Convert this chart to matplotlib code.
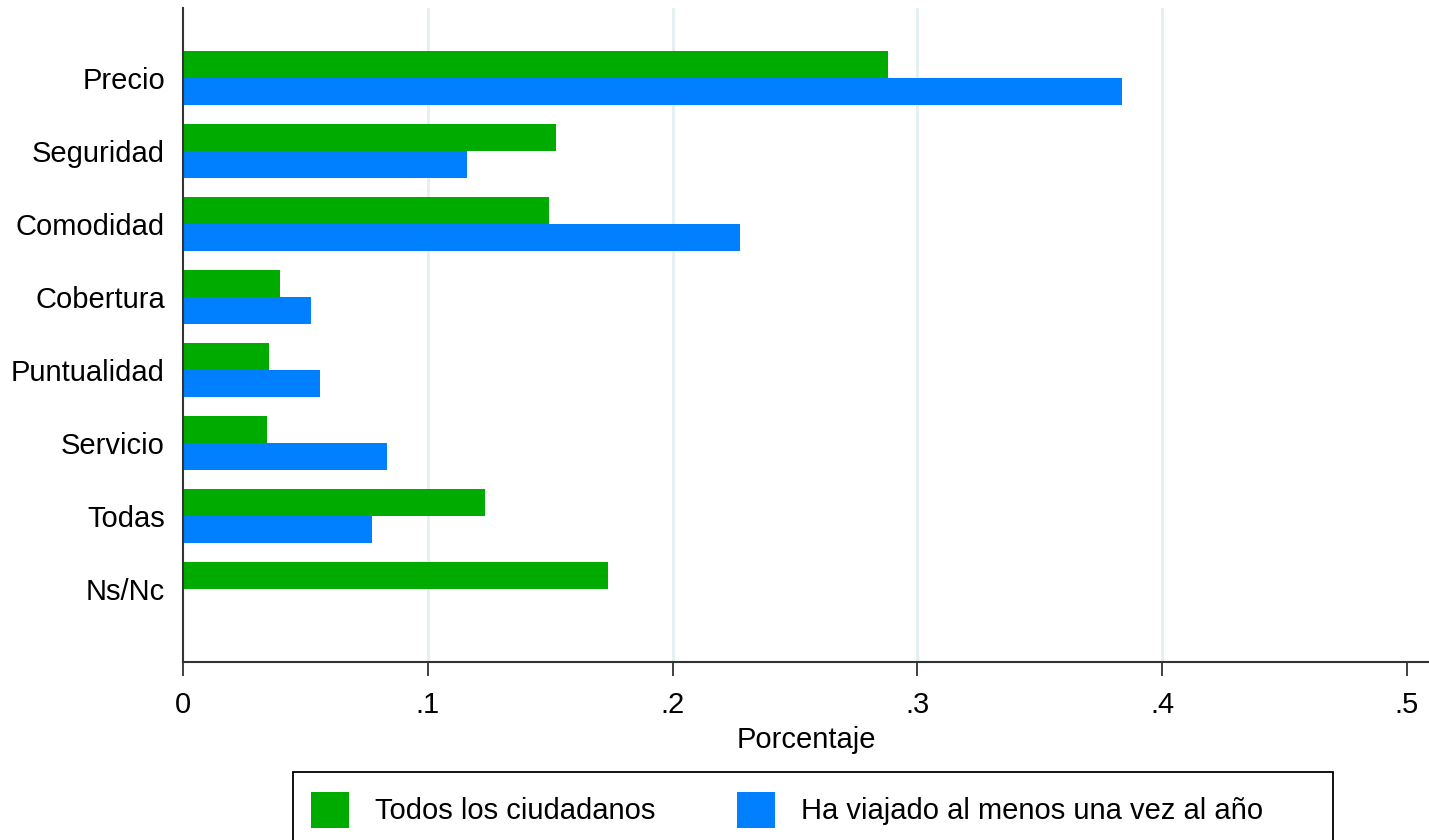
import matplotlib
matplotlib.use("Agg")
import matplotlib.pyplot as plt
from matplotlib.patches import Rectangle
import numpy as np

# Valores
categorias = ["Precio", "Seguridad", "Comodidad", "Cobertura",
              "Puntualidad", "Servicio", "Todas", "Ns/Nc"]
todos = [0.288, 0.1525, 0.1495, 0.0395, 0.035, 0.0345, 0.1235, 0.1735]
viajado = [0.3835, 0.116, 0.2275, 0.0523, 0.056, 0.0835, 0.0772, 0.0]
xticks = [0, 0.1, 0.2, 0.3, 0.4, 0.5]
xtick_labels = ["0", ".1", ".2", ".3", ".4", ".5"]

verde = "#00ab00"
azul = "#0080ff"

plt.rcParams['font.family'] = ['Liberation Sans', 'DejaVu Sans']

W, H = 1429, 840
fig = plt.figure(figsize=(W / 100, H / 100), dpi=100)
ax = fig.add_axes([183 / W, 1 - 662 / H, 1 - 183 / W, (662 - 8) / H])

y = np.arange(len(categorias))
h = 0.37
ax.barh(y - h / 2, todos, height=h, color=verde, label="Todos los ciudadanos")
ax.barh(y + h / 2, viajado, height=h, color=azul,
        label="Ha viajado al menos una vez al año")

for x in xticks[1:-1]:
    ax.axvline(x, color="#e6eff1", lw=2.2, zorder=0)

ax.set_xlim(0, 0.509)
ax.set_ylim(8.0, -0.96)
ax.set_yticks(y)
ax.set_yticklabels(categorias, fontsize=21)
ax.set_xticks(xticks)
ax.set_xticklabels(xtick_labels, fontsize=21)
ax.tick_params(axis="y", length=0, pad=13)
ax.tick_params(axis="x", length=10, width=1.3, pad=11, color="#333333")
ax.set_xlabel("Porcentaje", fontsize=21, labelpad=5)

for s in ["top", "right"]:
    ax.spines[s].set_visible(False)
for s in ["left", "bottom"]:
    ax.spines[s].set_color("#333333")
    ax.spines[s].set_linewidth(1.5)

# leyenda con marco propio (más ancho, como en Stata)
fig.legend(loc="upper left", bbox_to_anchor=(293 / W, 1 - 774 / H),
           ncol=2, fontsize=21, frameon=False, borderaxespad=0,
           handlelength=1.31, handleheight=1.55, handletextpad=0.9,
           columnspacing=2.8, borderpad=0.6)
fig.patches.append(Rectangle((293 / W, 1 - 850 / H), (1333 - 293) / W, 78 / H,
                             transform=fig.transFigure, fill=False,
                             edgecolor="black", lw=1.3))

fig.savefig("out.png", dpi=100)
